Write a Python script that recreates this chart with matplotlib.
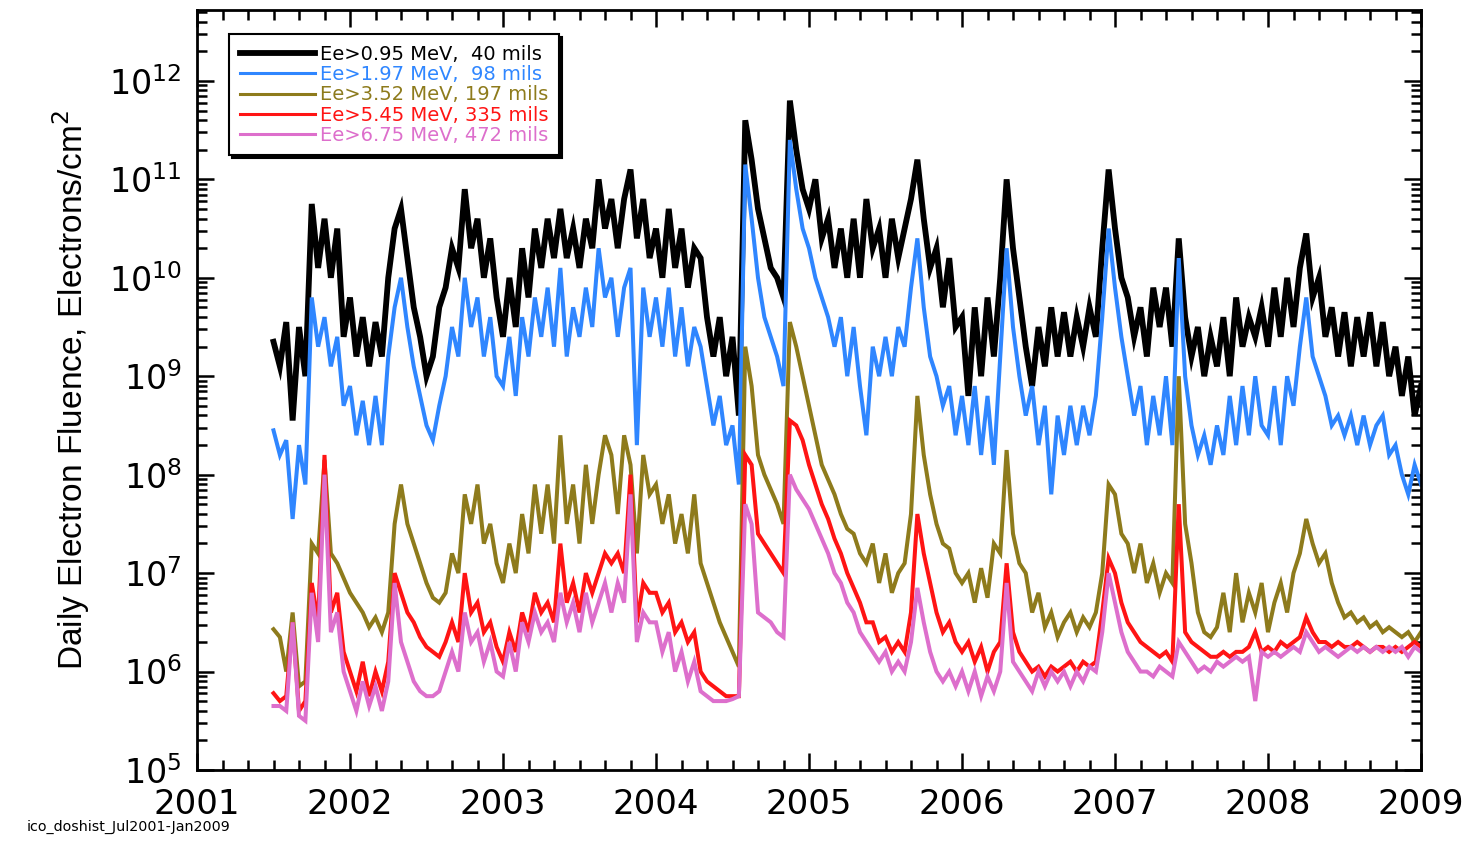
import numpy as np
import matplotlib
matplotlib.use("Agg")
import matplotlib.pyplot as plt
from matplotlib.ticker import (MultipleLocator, LogLocator, NullFormatter, FuncFormatter,
                               FixedLocator, LogFormatterSciNotation)
from matplotlib.lines import Line2D

plt.rcParams['font.family'] = ['DejaVu Sans']
plt.rcParams['mathtext.fontset'] = 'dejavusans'

# half-monthly samples from 2001.5 to 2009.0 (181 points)
t_start = 2001.5
t_step = 1.0 / 24.0
year_ticks = [2001, 2002, 2003, 2004, 2005, 2006, 2007, 2008, 2009]
decade_ticks = [1e5, 1e6, 1e7, 1e8, 1e9, 1e10, 1e11, 1e12]

labels = ["Ee>0.95 MeV,  40 mils", "Ee>1.97 MeV,  98 mils",
          "Ee>3.52 MeV, 197 mils", "Ee>5.45 MeV, 335 mils",
          "Ee>6.75 MeV, 472 mils"]
colors = ["#000000", "#2f86ff", "#8e7b1c", "#ff1414", "#dd6fcc"]

# log10 of daily fluence (electrons/cm^2)
log_e095 = [
    9.35, 9.1, 9.55, 8.55, 9.5, 9.0, 10.75, 10.1, 10.6, 10.0, 10.5, 9.4,
    9.8, 9.2, 9.6, 9.1, 9.55, 9.2, 10.0, 10.5, 10.7, 10.2, 9.7, 9.4,
    9.0, 9.2, 9.7, 9.9, 10.3, 10.1, 10.9, 10.3, 10.6, 10.0, 10.4, 9.8,
    9.4, 10.0, 9.5, 10.3, 9.8, 10.5, 10.1, 10.6, 10.2, 10.7, 10.2, 10.5,
    10.1, 10.6, 10.3, 11.0, 10.5, 10.8, 10.3, 10.8, 11.1, 10.4, 10.8, 10.2,
    10.5, 10.0, 10.7, 10.1, 10.5, 9.9, 10.3, 10.2, 9.6, 9.2, 9.6, 9.0,
    9.4, 8.6, 11.6, 11.2, 10.7, 10.4, 10.1, 10.0, 9.8, 11.8, 11.3, 10.9,
    10.7, 11.0, 10.4, 10.6, 10.1, 10.5, 10.0, 10.6, 10.0, 10.8, 10.3, 10.5,
    10.0, 10.6, 10.2, 10.5, 10.8, 11.2, 10.6, 10.1, 10.3, 9.7, 10.2, 9.5,
    9.6, 8.8, 9.7, 9.0, 9.8, 9.2, 10.0, 11.0, 10.3, 9.8, 9.3, 8.9,
    9.5, 9.1, 9.7, 9.2, 9.65, 9.2, 9.6, 9.3, 9.7, 9.4, 10.3, 11.1,
    10.5, 10.0, 9.8, 9.4, 9.7, 9.2, 9.9, 9.5, 9.9, 9.3, 10.4, 9.6,
    9.2, 9.5, 9.0, 9.4, 9.1, 9.6, 9.0, 9.8, 9.3, 9.6, 9.4, 9.7,
    9.3, 9.9, 9.4, 10.0, 9.5, 10.1, 10.45, 9.8, 10.0, 9.4, 9.7, 9.2,
    9.65, 9.1, 9.6, 9.2, 9.65, 9.1, 9.55, 9.0, 9.3, 8.8, 9.2, 8.6,
    8.9]

log_e197 = [
    8.45, 8.2, 8.35, 7.55, 8.3, 7.9, 9.8, 9.3, 9.6, 9.1, 9.4, 8.7,
    8.9, 8.4, 8.75, 8.3, 8.8, 8.3, 9.2, 9.7, 10.0, 9.5, 9.1, 8.8,
    8.5, 8.35, 8.7, 9.0, 9.5, 9.2, 10.0, 9.5, 9.8, 9.2, 9.6, 9.0,
    8.9, 9.4, 8.8, 9.6, 9.2, 9.8, 9.4, 9.9, 9.3, 10.1, 9.2, 9.7,
    9.4, 9.9, 9.5, 10.3, 9.8, 10.0, 9.4, 9.9, 10.1, 8.3, 9.9, 9.4,
    9.8, 9.3, 9.9, 9.2, 9.7, 9.1, 9.5, 9.3, 8.9, 8.5, 8.8, 8.3,
    8.5, 7.9, 11.15, 10.6, 10.0, 9.6, 9.4, 9.2, 8.9, 11.4, 10.9, 10.5,
    10.3, 10.0, 9.8, 9.6, 9.3, 9.6, 9.0, 9.5, 8.9, 8.4, 9.3, 9.0,
    9.4, 9.0, 9.5, 9.3, 9.9, 10.4, 9.7, 9.2, 9.0, 8.7, 8.9, 8.4,
    8.8, 8.3, 8.9, 8.2, 8.8, 8.1, 9.2, 10.3, 9.5, 9.0, 8.6, 8.9,
    8.3, 8.7, 7.8, 8.6, 8.2, 8.7, 8.3, 8.7, 8.4, 8.8, 9.6, 10.5,
    9.9, 9.4, 9.0, 8.6, 8.9, 8.3, 8.8, 8.4, 9.0, 8.3, 10.2, 9.0,
    8.5, 8.2, 8.4, 8.1, 8.5, 8.2, 8.8, 8.3, 8.9, 8.4, 9.0, 8.5,
    8.4, 8.9, 8.3, 9.0, 8.7, 9.3, 9.8, 9.2, 9.0, 8.8, 8.5, 8.6,
    8.4, 8.6, 8.3, 8.6, 8.3, 8.5, 8.6, 8.2, 8.3, 8.0, 7.8, 8.1,
    7.9]

log_e352 = [
    6.43, 6.35, 6.0, 6.6, 5.85, 5.9, 7.3, 7.2, 8.15, 7.2, 7.1, 6.95,
    6.8, 6.7, 6.6, 6.45, 6.55, 6.4, 6.6, 7.5, 7.9, 7.5, 7.3, 7.1,
    6.9, 6.75, 6.7, 6.8, 7.2, 7.0, 7.8, 7.5, 7.9, 7.3, 7.5, 7.1,
    6.9, 7.3, 7.0, 7.6, 7.2, 7.9, 7.4, 7.9, 7.3, 8.4, 7.5, 7.9,
    7.3, 8.1, 7.5, 8.0, 8.4, 8.2, 7.6, 8.4, 8.1, 7.2, 8.2, 7.8,
    7.9, 7.5, 7.8, 7.3, 7.6, 7.2, 7.8, 7.1, 6.9, 6.7, 6.5, 6.35,
    6.2, 6.05, 9.3, 8.9, 8.2, 8.0, 7.85, 7.7, 7.5, 9.55, 9.3, 9.0,
    8.7, 8.4, 8.1, 7.95, 7.8, 7.6, 7.45, 7.4, 7.2, 7.1, 7.3, 6.9,
    7.2, 6.8, 7.0, 7.1, 7.6, 8.8, 8.2, 7.8, 7.5, 7.3, 7.25, 7.0,
    6.9, 7.0, 6.7, 7.05, 6.75, 7.3, 7.2, 8.25, 7.4, 7.1, 7.0, 6.6,
    6.8, 6.45, 6.6, 6.35, 6.5, 6.6, 6.4, 6.55, 6.45, 6.6, 7.0, 7.9,
    7.8, 7.4, 7.3, 7.0, 7.3, 6.9, 7.1, 6.8, 7.0, 6.9, 9.0, 7.5,
    7.1, 6.6, 6.4, 6.35, 6.45, 6.8, 6.4, 7.0, 6.5, 6.8, 6.6, 6.9,
    6.4, 6.7, 6.9, 6.6, 7.0, 7.2, 7.55, 7.3, 7.1, 7.2, 6.9, 6.7,
    6.55, 6.6, 6.5, 6.55, 6.45, 6.5, 6.4, 6.45, 6.4, 6.35, 6.4, 6.3,
    6.4]

log_e545 = [
    5.78, 5.7, 5.75, 6.5, 5.6, 5.7, 6.9, 6.5, 8.2, 6.6, 6.8, 6.2,
    6.0, 5.8, 6.1, 5.75, 6.0, 5.8, 6.1, 7.0, 6.8, 6.6, 6.5, 6.35,
    6.25, 6.2, 6.15, 6.3, 6.5, 6.3, 7.0, 6.6, 6.7, 6.4, 6.5, 6.25,
    6.1, 6.4, 6.2, 6.6, 6.4, 6.8, 6.6, 6.7, 6.5, 7.3, 6.7, 6.9,
    6.6, 7.0, 6.8, 7.0, 7.2, 7.1, 7.2, 7.0, 8.0, 6.5, 6.9, 6.8,
    6.8, 6.6, 6.7, 6.4, 6.5, 6.3, 6.4, 6.0, 5.9, 5.85, 5.8, 5.75,
    5.75, 5.75, 8.2, 8.1, 7.4, 7.3, 7.2, 7.1, 7.0, 8.55, 8.5, 8.35,
    8.1, 7.9, 7.7, 7.55, 7.35, 7.2, 7.0, 6.85, 6.7, 6.5, 6.5, 6.3,
    6.35, 6.2, 6.3, 6.2, 6.6, 7.6, 7.2, 6.9, 6.6, 6.4, 6.5, 6.3,
    6.2, 6.3, 6.1, 6.25, 6.0, 6.2, 6.3, 7.1, 6.4, 6.2, 6.1, 6.0,
    6.05, 5.95, 6.05, 6.0, 6.05, 6.1, 6.0, 6.1, 6.05, 6.1, 6.6, 7.15,
    7.0, 6.7, 6.5, 6.4, 6.3, 6.25, 6.2, 6.15, 6.2, 6.1, 7.7, 6.4,
    6.3, 6.25, 6.2, 6.15, 6.15, 6.2, 6.15, 6.2, 6.2, 6.25, 6.4, 6.2,
    6.25, 6.2, 6.3, 6.25, 6.3, 6.35, 6.55, 6.4, 6.3, 6.3, 6.25, 6.3,
    6.25, 6.25, 6.3, 6.25, 6.2, 6.25, 6.25, 6.2, 6.25, 6.2, 6.25, 6.3,
    6.25]

log_e675 = [
    5.65, 5.65, 5.6, 6.5, 5.55, 5.5, 6.8, 6.3, 8.0, 6.4, 6.6, 6.0,
    5.8, 5.6, 5.9, 5.65, 5.85, 5.6, 5.9, 6.9, 6.3, 6.1, 5.9, 5.8,
    5.75, 5.75, 5.8, 6.0, 6.2, 6.0, 6.6, 6.3, 6.4, 6.1, 6.3, 6.0,
    5.95, 6.3, 6.0, 6.5, 6.3, 6.6, 6.4, 6.5, 6.3, 6.8, 6.5, 6.7,
    6.4, 6.8, 6.5, 6.7, 6.9, 6.6, 6.9, 6.7, 7.8, 6.3, 6.6, 6.5,
    6.5, 6.2, 6.4, 6.0, 6.2, 5.9, 6.1, 5.8, 5.75, 5.7, 5.7, 5.7,
    5.72, 5.75, 7.7, 7.5, 6.6, 6.55, 6.5, 6.4, 6.35, 8.0, 7.85, 7.75,
    7.65, 7.5, 7.35, 7.2, 7.0, 6.9, 6.7, 6.6, 6.4, 6.3, 6.2, 6.1,
    6.2, 6.0, 6.1, 6.0, 6.3, 6.85, 6.5, 6.2, 6.0, 5.9, 6.0, 5.85,
    6.0, 5.8, 6.0, 5.75, 5.95, 5.8, 6.0, 6.9, 6.1, 6.0, 5.9, 5.8,
    6.0, 5.85, 6.0, 5.9, 6.0, 5.85, 6.0, 5.9, 6.05, 6.0, 6.4, 7.0,
    6.7, 6.4, 6.2, 6.1, 6.0, 6.0, 5.95, 6.05, 6.0, 5.95, 6.3, 6.2,
    6.1, 6.0, 6.05, 6.0, 6.1, 6.05, 6.1, 6.15, 6.1, 6.15, 5.7, 6.2,
    6.15, 6.2, 6.15, 6.2, 6.25, 6.2, 6.4, 6.3, 6.2, 6.25, 6.2, 6.15,
    6.2, 6.25, 6.2, 6.25, 6.2, 6.25, 6.2, 6.25, 6.2, 6.25, 6.15, 6.25,
    6.2]

series = [log_e095, log_e197, log_e352, log_e545, log_e675]
widths = [4.2, 2.9, 2.9, 2.9, 2.9]
legend_widths = [4.2, 2.2, 2.2, 2.2, 2.2]

n = len(log_e095)
t = t_start + t_step * np.arange(n)

fig = plt.figure(figsize=(14.69, 8.42), dpi=100)
ax = fig.add_axes([197/1469, 1 - 770/842, (1421-197)/1469, (770-10)/842])

handles = []
for vals, c, w, lw_leg in zip(series, colors, widths, legend_widths):
    ax.plot(t, 10.0 ** np.array(vals), color=c, lw=w, solid_joinstyle='miter')
    handles.append(Line2D([], [], color=c, lw=lw_leg))

ax.set_yscale('log')
ax.set_xlim(2001, 2009)
ax.set_ylim(1e5, 10 ** 12.72)

ax.xaxis.set_major_locator(FixedLocator(year_ticks))
ax.xaxis.set_minor_locator(MultipleLocator(1 / 6))
ax.xaxis.set_major_formatter(FuncFormatter(lambda v, p: f"{int(round(v))}"))
ax.yaxis.set_major_locator(FixedLocator(decade_ticks))
ax.yaxis.set_major_formatter(FuncFormatter(
    lambda v, p: r"$\mathdefault{10^{%d}}$" % int(round(np.log10(v)))))
ax.yaxis.set_minor_locator(LogLocator(base=10, subs=np.arange(2, 10), numticks=200))
ax.yaxis.set_minor_formatter(NullFormatter())

ax.tick_params(which='both', direction='in', top=True, right=True, width=1.8)
ax.tick_params(which='major', length=12)
ax.tick_params(which='minor', length=7)
ax.tick_params(axis='x', which='major', labelsize=24.5, pad=13)
ax.tick_params(axis='y', which='major', labelsize=24, pad=11)
for s in ax.spines.values():
    s.set_linewidth(2.0)

ax.set_ylabel("Daily Electron Fluence, Electrons/cm$^2$", fontsize=24,
              family='Liberation Sans', labelpad=12)
ax.yaxis.label.set_math_fontfamily('custom')

leg = ax.legend(handles, labels, loc='upper left', bbox_to_anchor=(0.026, 0.968),
                fontsize=14, handlelength=3.9, handletextpad=0.25,
                labelspacing=0.06, borderpad=0.55, borderaxespad=0.0,
                fancybox=False, framealpha=1, edgecolor='black', labelcolor=colors,
                shadow={'color': 'black', 'alpha': 1.0})
leg.get_frame().set_linewidth(1.5)

fig.text(27/1469, 1 - 831/842, "ico_doshist_Jul2001-Jan2009", fontsize=10.3,
         ha='left', va='baseline')

fig.savefig("out.png", dpi=100)
